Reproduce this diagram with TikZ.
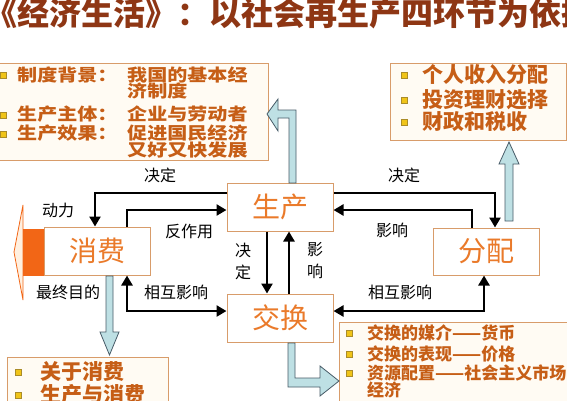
\documentclass[tikz,border=0pt]{standalone}
\usepackage{fontspec}
\setmainfont{Noto Sans CJK SC}
\usetikzlibrary{arrows.meta,positioning,calc}
\definecolor{boxline}{RGB}{216,156,106}
\definecolor{boxfill}{RGB}{255,251,243}
\definecolor{keytext}{RGB}{234,122,42}
\definecolor{infotext}{RGB}{198,94,22}
\definecolor{titlebrown}{RGB}{142,54,20}
\definecolor{bulletgold}{RGB}{240,196,24}
\definecolor{bulletedge}{RGB}{170,140,40}
\definecolor{arrowblue}{RGB}{190,224,228}
\definecolor{arrowedge}{RGB}{72,92,104}
\definecolor{tailorange}{RGB}{242,102,22}
\tikzset{
  >=Latex,
  stage/.style={draw=boxline, line width=1pt, fill=white, text=keytext,
    minimum width=106pt, minimum height=48pt, inner sep=0pt,
    font=\fontsize{28}{30}\selectfont},
  infobox/.style={draw=boxline, line width=1pt, fill=boxfill},
  info/.style={anchor=west, inner sep=0pt, text=infotext,
    font=\bfseries\fontsize{#1}{#1}\selectfont},
  wideinfo/.style={anchor=west, inner sep=0pt, text=infotext,
    font=\bfseries\fontsize{17}{17}\selectfont\addfontfeature{FakeStretch=1.18}},
  bullet/.style={draw=bulletedge, line width=.4pt, fill=bulletgold,
    minimum size=6.5pt, inner sep=0pt},
  lab/.style={inner sep=0pt, font=\fontsize{16}{18}\selectfont},
  flow/.style={line width=2.8pt, -{Triangle[length=10pt,width=11pt]}},
  mutual/.style={line width=2.8pt,
    {Triangle[length=10pt,width=11pt]}-{Triangle[length=10pt,width=11pt]}},
  blockarr/.style={draw=arrowedge, fill=arrowblue, line width=.8pt,
    line join=miter}
}
\begin{document}
\begin{tikzpicture}[x=1pt,y=-1pt]
\useasboundingbox (0,0) rectangle (567,400);
\clip (0,0) rectangle (567,400);
\fill[white] (0,0) rectangle (567,400);

% Title
\node[anchor=west, inner sep=0pt, text=titlebrown,
  font=\bfseries\fontsize{32}{34}\selectfont] (title) at (-15,13)
  {《经济生活》：以社会再生产四环节为依据};

% Four stages
\node[stage] (prod) at (280,207) {生产};
\node[stage] (exch) at (280,318) {交换};
\node[stage] (cons) at (97,251) {消费};
\node[stage, minimum height=47pt] (dist) at (486,251.5) {分配};

% Info boxes
\node[infobox, minimum width=273pt, minimum height=97pt] (prodinfo) at (131.5,111.5) {};
\node[infobox, minimum width=176pt, minimum height=77pt] (distinfo) at (478,101.5) {};
\node[infobox, minimum width=161pt, minimum height=60pt] (consinfo) at (87.5,387) {};
\node[infobox, minimum width=240pt, minimum height=90pt] (exchinfo) at (459,367) {};

\foreach \y [count=\i] in {75,115,134}{\node[bullet] (pb\i) at (3,\y) {};}
\foreach \y [count=\i] in {75,100,122}{\node[bullet] (db\i) at (404,\y) {};}
\foreach \y [count=\i] in {372,395}{\node[bullet] (cb\i) at (18,\y) {};}
\foreach \y [count=\i] in {333,354,373}{\node[bullet] (eb\i) at (349,\y) {};}

\node[wideinfo] (p1) at (17,75) {制度背景：};
\node[wideinfo] (p1a) at (127,75) {我国的基本经};
\node[wideinfo] (p1b) at (127,91) {济制度};
\node[wideinfo] (p2) at (17,114) {生产主体：};
\node[wideinfo] (p2a) at (127,114) {企业与劳动者};
\node[wideinfo] (p3) at (17,133) {生产效果：};
\node[wideinfo] (p3a) at (127,133) {促进国民经济};
\node[wideinfo] (p3b) at (127,150) {又好又快发展};

\node[info=21] (d1) at (422,75) {个人收入分配};
\node[info=21] (d2) at (422,100) {投资理财选择};
\node[info=21] (d3) at (422,122) {财政和税收};
\node[info=21] (c1) at (40,372) {关于消费};
\node[info=21] (c2) at (40,395) {生产与消费};

\node[info=17] (e1) at (367,333) {交换的媒介——货币};
\node[info=17] (e2) at (367,354) {交换的表现——价格};
\node[info=17] (e3) at (367,373) {资源配置——社会主义市场};
\node[info=17] (e3b) at (367,390) {经济};

% Block arrows to the info boxes
\draw[blockarr] (296,183) -- (296,110) -- (278,110) -- (278,99) -- (267,114)
  -- (278,131) -- (278,118) -- (289,118) -- (289,183) -- cycle;
\draw[blockarr] (505,221) -- (505,164) -- (499,164) -- (509,142) -- (519,164)
  -- (513,164) -- (513,221) -- cycle;
\draw[blockarr] (106,276) -- (106,332) -- (100,332) -- (109.5,355) -- (119,332)
  -- (113,332) -- (113,276) -- cycle;
\draw[blockarr] (288,343) -- (288,387) -- (320,387) -- (320,396) -- (339,381)
  -- (320,366) -- (320,378) -- (295,378) -- (295,343) -- cycle;

% Orange tail of the consumption box
\draw[tailorange, fill=orange!12, line width=.8pt] (23,205) -- (14,252) -- (23,300) -- cycle;
\fill[tailorange] (23,229) rectangle (cons.south west);

% Relations between the stages
\draw[flow] ($(prod.west)+(0,-14)$) -| ($(cons.north)+(-2,0)$);
\draw[flow] ($(cons.north)+(30,0)$) |- ($(prod.west)+(0,3)$);
\draw[flow] ($(prod.east)+(0,-14)$) -| ($(dist.north)+(9,0)$);
\draw[flow] ($(dist.north)+(-14,0)$) |- ($(prod.east)+(0,3)$);
\draw[flow] ($(prod.south)+(-13,0)$) -- ($(exch.north)+(-13,0)$);
\draw[flow] ($(exch.north)+(9,0)$) -- ($(prod.south)+(9,0)$);
\draw[mutual] ($(cons.south)+(30,0)$) |- ($(exch.west)+(0,-7)$);
\draw[mutual] ($(dist.south)+(-2,0)$) |- ($(exch.east)+(0,-7)$);

% Labels
\node[lab] (l1) at (160,175) {决定};
\node[lab] (l2) at (58,210) {动力};
\node[lab] (l3) at (189,231) {反作用};
\node[lab] (l4) at (404,175) {决定};
\node[lab] (l5) at (392,230) {影响};
\node[lab, align=center, font=\fontsize{16}{22}\selectfont] (l6) at (243,261) {决\\定};
\node[lab, align=center, font=\fontsize{16}{22}\selectfont] (l7) at (315,261) {影\\响};
\node[lab] (l8) at (68,292) {最终目的};
\node[lab] (l9) at (176,292) {相互影响};
\node[lab] (l10) at (400,292) {相互影响};

\end{tikzpicture}
\end{document}
